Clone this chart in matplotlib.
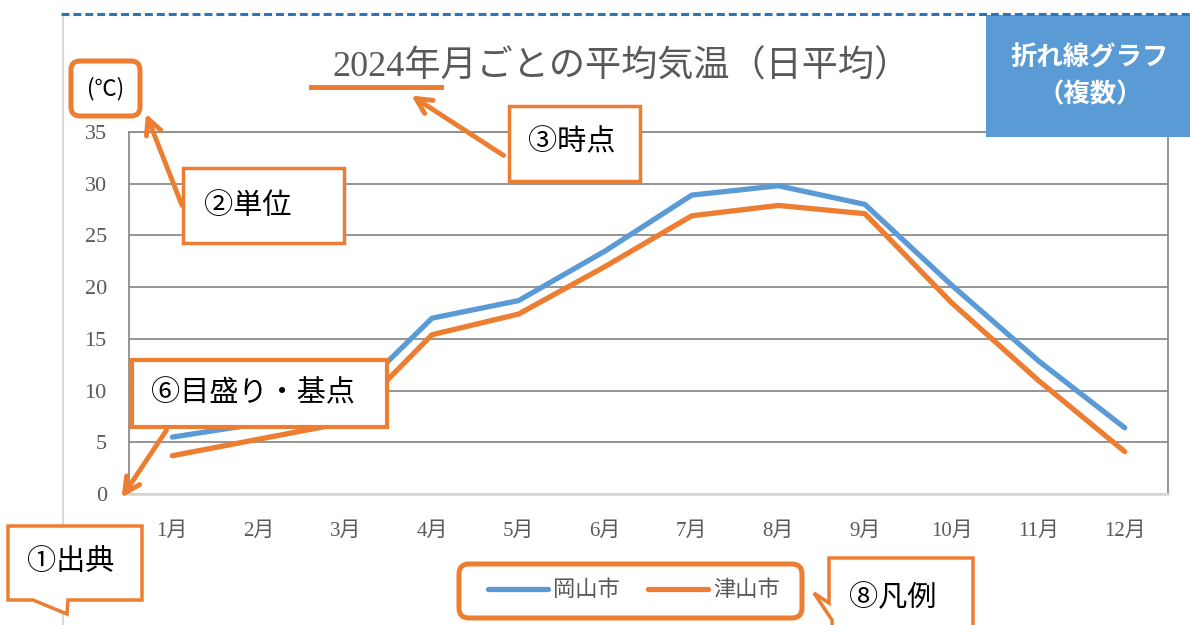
import matplotlib
matplotlib.use("Agg")
import matplotlib.pyplot as plt
from matplotlib.patches import Rectangle, FancyBboxPatch, Polygon
from matplotlib.lines import Line2D

plt.rcParams['font.family'] = ['Liberation Serif', 'Noto Sans CJK JP', 'DejaVu Sans']

# 月ごとの平均気温 (℃)
MONTHS = ["1月", "2月", "3月", "4月", "5月", "6月",
          "7月", "8月", "9月", "10月", "11月", "12月"]
OKAYAMA = [5.5, 6.8, 8.8, 17.0, 18.7, 23.5, 28.9, 29.8, 28.0, 20.2, 12.9, 6.4]
TSUYAMA = [3.7, 5.3, 6.9, 15.4, 17.4, 22.0, 26.9, 27.9, 27.1, 18.5, 11.0, 4.1]
SERIES_NAMES = ["岡山市", "津山市"]
Y_TICKS = [0, 5, 10, 15, 20, 25, 30, 35]

BLUE = "#5B9BD5"
ORANGE = "#ED7D31"
GRID = "#8C8C8C"
TXT = "#595959"
SANS = ['Noto Sans CJK JP', 'DejaVu Sans']

W, H = 1190, 625
fig = plt.figure(figsize=(W / 100, H / 100), dpi=100)

# plot area (pixel box 129..1168 x 132..494)
ax = fig.add_axes([129 / W, 1 - 494 / H, (1168 - 129) / W, (494 - 132) / H])
x = list(range(len(MONTHS)))
ax.plot(x, OKAYAMA, color=BLUE, lw=3.8, solid_capstyle="round", solid_joinstyle="round", zorder=3)
ax.plot(x, TSUYAMA, color=ORANGE, lw=3.8, solid_capstyle="round", solid_joinstyle="round", zorder=3)
ax.set_xlim(-0.5, len(MONTHS) - 0.5)
ax.set_ylim(0, 35)
ax.set_yticks(Y_TICKS)
ax.set_xticks(x)
ax.set_xticklabels(MONTHS)
ax.yaxis.grid(True, color=GRID, lw=1.3)
ax.set_axisbelow(True)
ax.tick_params(length=0, labelsize=15, colors=TXT)
ax.tick_params(axis="y", pad=16, labelsize=16)
ax.tick_params(axis="x", pad=20)
for s in ["left", "right", "top"]:
    ax.spines[s].set_color(GRID)
    ax.spines[s].set_linewidth(1.3)
ax.spines["bottom"].set_color("#D9D9D9")
ax.spines["bottom"].set_linewidth(2)

# overlay in pixel coordinates for the callouts
ov = fig.add_axes([0, 0, 1, 1], zorder=5)
ov.set_xlim(0, W)
ov.set_ylim(H, 0)
ov.axis("off")
ov.patch.set_alpha(0)

# chart frame bits
ov.plot([63, 63], [17, H], color="#D9D9D9", lw=1.5, zorder=0)
ov.add_patch(Rectangle((986, 15), 210, 122, facecolor=BLUE, edgecolor="none"))
ov.plot([61, W], [14, 14], color="#2E75B6", lw=2.2, dashes=(2.6, 1.3))
ov.text(1090, 58, "折れ線グラフ", family=SANS, fontsize=19, fontweight="bold",
        color="white", ha="center", va="center")
ov.text(1090, 95, "（複数）", family=SANS, fontsize=19, fontweight="bold",
        color="white", ha="center", va="center")

# title
ov.text(621, 67, "2024年月ごとの平均気温（日平均）", fontsize=26, color=TXT,
        ha="center", va="center")

# unit
ov.add_patch(FancyBboxPatch((71, 61), 69, 55, boxstyle="round,pad=0,rounding_size=9",
                            facecolor="white", edgecolor=ORANGE, lw=3.6))
ov.text(106, 89, "(℃)", family=SANS, fontsize=16, color="black", ha="center", va="center")

arrow = dict(arrowstyle="->", color=ORANGE, lw=3.5, mutation_scale=28)

# ② 単位
ov.annotate("", xy=(145, 111), xytext=(183, 208), arrowprops=arrow)
ov.add_patch(Rectangle((183, 168), 161, 75, facecolor="white", edgecolor=ORANGE, lw=2.5))
ov.text(204, 207, "②単位", fontsize=21, color="black", ha="left", va="center")

# ③ 時点
ov.plot([311, 441], [87, 87], color=ORANGE, lw=3.6)
ov.annotate("", xy=(409, 94), xytext=(506, 157), arrowprops=arrow)
ov.add_patch(Rectangle((509, 106), 131, 75, facecolor="white", edgecolor=ORANGE, lw=2.5))
ov.text(528, 143, "③時点", fontsize=21, color="black", ha="left", va="center")

# ⑥ 目盛り・基点
ov.add_patch(Rectangle((132, 360), 255, 67, facecolor="white", edgecolor=ORANGE, lw=3))
ov.text(151, 394, "⑥目盛り・基点", fontsize=21, color="black", ha="left", va="center")
ov.annotate("", xy=(120, 500), xytext=(168, 428), arrowprops=arrow)

# ① 出典
ov.add_patch(Polygon([(8, 526), (142, 526), (142, 600), (68, 600), (67, 614),
                      (33, 600), (8, 600)], closed=True,
                     facecolor="white", edgecolor=ORANGE, lw=2.5, zorder=2))
ov.text(27, 563, "①出典", fontsize=21, color="black", ha="left", va="center")

# legend
ov.add_patch(FancyBboxPatch((459, 564), 343, 54, boxstyle="round,pad=0,rounding_size=10",
                            facecolor="white", edgecolor=ORANGE, lw=3.6))
handles = [Line2D([], [], color=BLUE, lw=3.8, solid_capstyle="round"),
           Line2D([], [], color=ORANGE, lw=3.8, solid_capstyle="round")]
leg = ov.legend(handles, SERIES_NAMES, loc="center", bbox_to_anchor=(634, 591),
                bbox_transform=ov.transData, ncol=2, frameon=False, fontsize=16,
                handlelength=2.7, handletextpad=0.2, columnspacing=1.3,
                labelcolor=TXT)
leg.set_zorder(6)

# ⑧ 凡例
ov.add_patch(Polygon([(829, 558), (973, 558), (973, 640), (833, 640), (832, 620),
                      (814, 593), (829, 603)], closed=True,
                     facecolor="white", edgecolor=ORANGE, lw=2.5, clip_on=False))
ov.text(849, 598, "⑧凡例", fontsize=21, color="black", ha="left", va="center")

fig.savefig("out.png", dpi=100, facecolor="white")
